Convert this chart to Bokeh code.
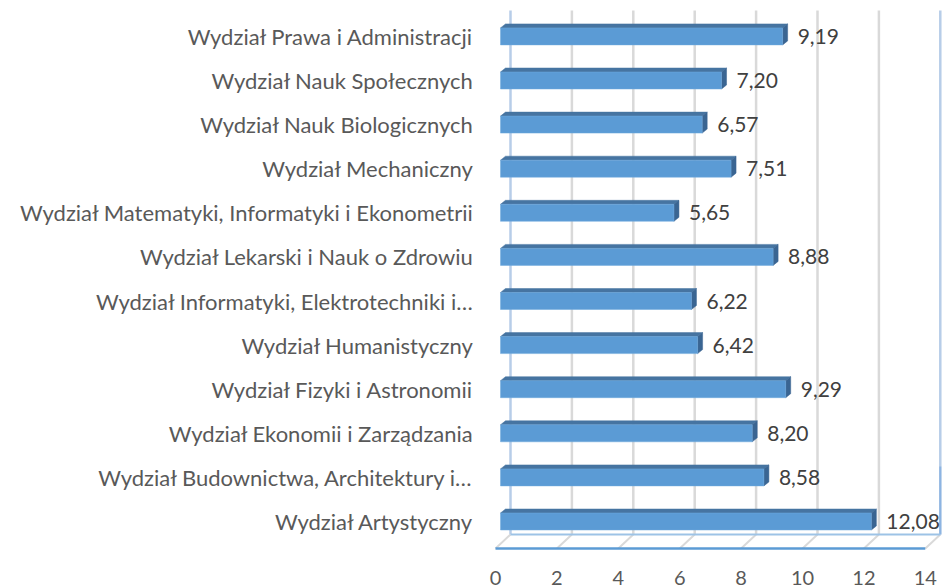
from bokeh.plotting import figure
from bokeh.models import FixedTicker, ColumnDataSource, Range1d
from bokeh.embed import file_html
from bokeh.resources import INLINE
from bokeh.core.properties import value

# ---------------- data (bottom to top) ----------------
categories = [
    "Wydział Artystyczny",
    "Wydział Budownictwa, Architektury i…",
    "Wydział Ekonomii i Zarządzania",
    "Wydział Fizyki i Astronomii",
    "Wydział Humanistyczny",
    "Wydział Informatyki, Elektrotechniki i…",
    "Wydział Lekarski i Nauk o Zdrowiu",
    "Wydział Matematyki, Informatyki i Ekonometrii",
    "Wydział Mechaniczny",
    "Wydział Nauk Biologicznych",
    "Wydział Nauk Społecznych",
    "Wydział Prawa i Administracji",
]
values = [12.08, 8.58, 8.20, 9.29, 6.42, 6.22, 8.88, 5.65, 7.51, 6.57, 7.20, 9.19]
x_ticks = [0, 2, 4, 6, 8, 10, 12, 14]
x_tick_labels = ["0", "2", "4", "6", "8", "10", "12", "14"]

# ---------------- layout / style ----------------
W, H = 943, 588
FRAME_LEFT = 490
BORDER_BOTTOM = 30
PXX = 30.7   # px per x unit
PXY = 44.1   # px per category
FRAME_H = H - BORDER_BOTTOM

x_start = -5 / PXX
x_end = x_start + (W - FRAME_LEFT) / PXX
y_end = 521 / PXY
y_start = y_end - FRAME_H / PXY

BX0 = 5 / PXX          # bar front offset from floor front
BH = 17 / PXY          # bar front face height
DX = 5 / PXX           # bar depth (x)
DY = 4 / PXY           # bar depth (y)
WX = 15 / PXX          # wall depth (x)
WY = 14 / PXY          # wall depth (y)
FLOOR_FRONT = -27 / PXY
FLOOR_BACK = FLOOR_FRONT + WY
WALL_TOP = 511 / PXY

FRONT = "#5B9BD5"
TOP = "#4674A1"
SIDE = "#3A6592"
GRID = "#D9D9D9"
EDGE = "#B7CDE8"
TXT = "#595959"
LBL = "#404040"
FONT = "Lato"

p = figure(width=W, height=H, output_backend="svg", toolbar_location=None,
           x_range=Range1d(x_start, x_end), y_range=Range1d(y_start, y_end),
           min_border_left=FRAME_LEFT, min_border_right=0, min_border_top=0,
           min_border_bottom=BORDER_BOTTOM)
p.outline_line_color = None
p.grid.visible = False
p.background_fill_color = "white"
p.border_fill_color = "white"

# back wall gridlines and floor diagonals
for t in x_ticks:
    col = EDGE if t in (x_ticks[0], x_ticks[-1]) else GRID
    p.segment(x0=[t + WX], y0=[FLOOR_BACK], x1=[t + WX], y1=[WALL_TOP],
              line_color=col, line_width=2.5)
    p.segment(x0=[t + WX], y0=[FLOOR_BACK], x1=[t], y1=[FLOOR_FRONT],
              line_color=GRID, line_width=2)
# right wall blue lower part
p.segment(x0=[x_ticks[-1] + WX], y0=[FLOOR_BACK], x1=[x_ticks[-1] + WX],
          y1=[FLOOR_BACK + 68 / PXY], line_color="#8DB4E2", line_width=2)
# floor edges
p.segment(x0=[x_ticks[0] + WX], y0=[FLOOR_BACK], x1=[x_ticks[-1] + WX], y1=[FLOOR_BACK],
          line_color="#9DC3E6", line_width=2)
p.segment(x0=[x_ticks[0]], y0=[FLOOR_FRONT], x1=[x_ticks[-1]], y1=[FLOOR_FRONT],
          line_color=FRONT, line_width=2.5)

# bars
idx = list(range(len(categories)))
src = ColumnDataSource(dict(
    left=[BX0] * len(values),
    right=[BX0 + v for v in values],
    bottom=[i - BH / 2 for i in idx],
    top=[i + BH / 2 for i in idx],
))
top_xs, top_ys, side_xs, side_ys = [], [], [], []
for i, v in zip(idx, values):
    yt = i + BH / 2
    yb = i - BH / 2
    xe = BX0 + v
    top_xs.append([BX0, xe, xe + DX, BX0 + DX])
    top_ys.append([yt, yt, yt + DY, yt + DY])
    side_xs.append([xe, xe + DX, xe + DX, xe])
    side_ys.append([yb, yb + DY, yt + DY, yt])

p.patches(xs=top_xs, ys=top_ys, fill_color=TOP, line_color=TOP, line_width=0.5)
p.patches(xs=side_xs, ys=side_ys, fill_color=SIDE, line_color=SIDE, line_width=0.5)
p.quad(left="left", right="right", bottom="bottom", top="top", source=src,
       fill_color=FRONT, line_color="#6FA8DC", line_width=0.5)

# value labels
lab_src = ColumnDataSource(dict(
    x=[BX0 + v + DX + 10 / PXX for v in values],
    y=idx,
    t=[f"{v:.2f}".replace(".", ",") for v in values],
))
p.text(x="x", y="y", text="t", source=lab_src, text_font=value(FONT),
       text_font_size="21px", text_color=LBL, text_baseline="middle", text_align="left")

# axes
p.xaxis.ticker = FixedTicker(ticks=x_ticks)
p.xaxis.major_label_overrides = {t: l for t, l in zip(x_ticks, x_tick_labels)}
p.xaxis.axis_line_color = None
p.xaxis.major_tick_line_color = None
p.xaxis.minor_tick_line_color = None
p.xaxis.major_tick_out = 0
p.xaxis.major_tick_in = 0
p.xaxis.major_label_standoff = 12
p.xaxis.major_label_text_font = FONT
p.xaxis.major_label_text_font_size = "20px"
p.xaxis.major_label_text_color = TXT

p.yaxis.ticker = FixedTicker(ticks=idx)
p.yaxis.major_label_overrides = {i: c for i, c in zip(idx, categories)}
p.yaxis.axis_line_color = None
p.yaxis.major_tick_line_color = None
p.yaxis.minor_tick_line_color = None
p.yaxis.major_tick_out = 0
p.yaxis.major_tick_in = 0
p.yaxis.major_label_standoff = 17
p.yaxis.major_label_text_font = FONT
p.yaxis.major_label_text_font_size = "22px"
p.yaxis.major_label_text_color = TXT

open("out.html", "w").write(file_html(p, INLINE))
